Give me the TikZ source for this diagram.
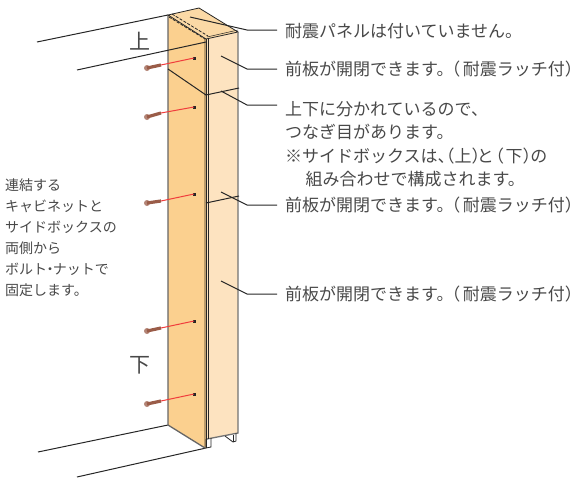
\documentclass[tikz,border=0pt]{standalone}
\usepackage{fontspec}
\setmainfont{Noto Sans CJK JP}
\definecolor{sidec}{HTML}{FBD08F}
\definecolor{frontc}{HTML}{FDE3C0}
\definecolor{topc}{HTML}{FBD9A6}
\definecolor{txt}{HTML}{484848}
\definecolor{boltc}{HTML}{9A5C48}
\definecolor{redl}{HTML}{F03C3C}
\newcommand{\maeita}{前板が開閉できます。\kern-.6em（\kern.15em 耐震ラッチ付）\kern-.6em}
\tikzset{
 x=1pt,y=-1pt,
 edge/.style={draw=black!85,line width=.8pt},
 leader/.style={draw=black!85,line width=1pt},
 wall/.style={draw=black!85,line width=1pt},
 lab/.style={anchor=west,inner sep=0pt,text=txt,font=\fontsize{17}{20}\selectfont},
 lab2/.style={anchor=north west,inner sep=0pt,text=txt,align=left,font=\fontsize{17}{23.4}\selectfont},
 side/.style={anchor=north west,inner sep=0pt,text=txt,align=left,font=\fontsize{14}{21.1}\selectfont},
 big/.style={inner sep=0pt,text=txt,font=\fontsize{21}{21}\selectfont},
 shaft/.style={draw=redl,line width=1pt},
 boltbody/.style={draw=boltc,line width=3.2pt},
 dot/.style={fill=black!85,draw=none,minimum size=3pt,inner sep=0pt,rectangle},
 boltend/.style={circle,fill=boltc!75,draw=none,minimum size=6pt,inner sep=0pt},
}
\begin{document}
\begin{tikzpicture}
\useasboundingbox (0,0) rectangle (573,477);
% walls
\coordinate (wa) at (37,42); \coordinate (wb) at (168,15);
\coordinate (wc) at (77,70); \coordinate (wd) at (206,42);
\coordinate (we) at (38,452); \coordinate (wf) at (168,425);
\coordinate (wg) at (77,477); \coordinate (wh) at (206,448);
\draw[wall] (wa)--(wb);
\draw[wall] (we)--(wf);
\draw[wall] (wg)--(wh);
% cabinet faces
\fill[sidec] (168,15)--(205,39)--(205,448)--(168,425)--cycle;
\fill[topc] (168,15)--(199,8)--(238,32)--(206,39)--cycle;
\fill[frontc] (207,39)--(238,32)--(238,433)--(207,439)--cycle;
\fill[sidec!75!black] (204,39) rectangle (206,448);
\draw[draw=black!60,line width=1.3pt] (168,15)--(168,425)--(205,448);
\draw[edge] (168,15)--(199,8)--(238,32)--(206,39)--cycle;
\draw[draw=black!55,line width=1.3pt] (238,32)--(238,433)--(207,439);
\draw[edge] (206,39)--(206,448);
\draw[edge] (208,38)--(208,439);
\draw[edge,dash pattern=on 3pt off 1.5pt] (172,14)--(208,36);
\draw[edge,dash pattern=on 3pt off 1.5pt] (169,17)--(205,39);
\draw[edge,line width=.5pt] (207,37)--(238,30);
\draw[wall] (wc)--(wd);
% joints
\draw[edge,line width=1pt] (168,69)--(206,95)--(239,88);
\draw[edge,line width=1pt] (206,203)--(239,196);
% feet
\draw[edge] (206,439)--(206,448)(211,438)--(211,447)--(206,448);
\draw[edge] (225,436)--(233,442)--(236,441)--(236,433);
\draw[edge] (233,442)--(233,435);
% bolts
\foreach \n/\ax/\ay/\bx/\by/\cx/\cy in {a/147/68/161/65/194/58, b/147/117/161/113/194/107, c/147/203/161/201/194/194, d/147/331/161/328/194/321, e/147/404/161/401/194/394}{
  \coordinate (h\n) at (\ax,\ay);
  \coordinate (m\n) at (\bx,\by);
  \node[dot] (t\n) at (\cx,\cy) {};
  \node[boltend] (e\n) at (h\n) {};
  \draw[boltbody] (e\n.center)--(m\n);
  \draw[shaft] (m\n)--(t\n.center);
}
% leaders
\node[lab] (l1) at (285,31) {耐震パネルは付いていません。};
\node[lab] (l2) at (285,69) {\maeita};
\node[lab2] (l3) at (285,101) {上下に分かれているので、\\つなぎ目があります。\\※サイドボックスは、\kern-1em（上）\kern-.7em と\kern-.4em（\kern.1em 下）\kern-.55em の\\\hspace{1.2em}組み合わせで構成されます。};
\node[lab] (l4) at (285,205) {\maeita};
\node[lab] (l5) at (285,294) {\maeita};
\coordinate (p1) at (190,17); \coordinate (p2) at (221,56); \coordinate (p3) at (221,91);
\coordinate (p4) at (221,192); \coordinate (p5) at (221,281);
\draw[leader] (p1)--(247,30)--(277,30);
\draw[leader] (p2)--(247,69)--(277,69);
\draw[leader] (p3)--(247,105)--(277,105);
\draw[leader] (p4)--(247,205)--(277,205);
\draw[leader] (p5)--(247,294)--(277,294);
% other text
\node[big] (up) at (140,41) {上};
\node[big] (down) at (140,365) {下};
\node[side] (s) at (5,178.5) {連結する\\キャビネットと\\サイドボックスの\\両側から\\ボルト\kern-.3em・\kern-.3em ナットで\\固定します。};
\end{tikzpicture}
\end{document}
